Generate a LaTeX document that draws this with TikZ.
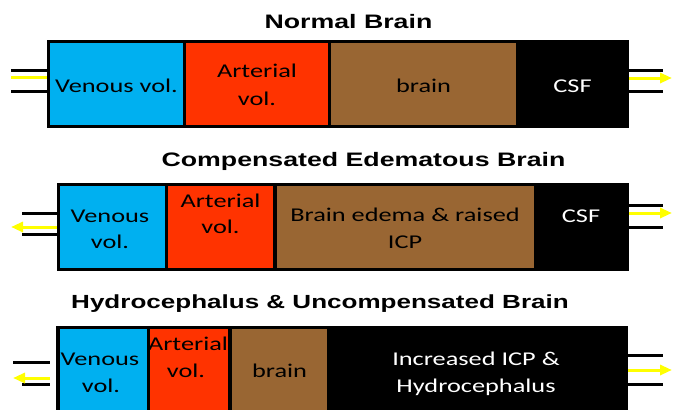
\documentclass[tikz,border=0pt]{standalone}
\usepackage{fontspec}
\newfontfamily\titlefont[FakeStretch=1.37]{Liberation Sans}
\newfontfamily\cellfont[FakeStretch=1.35]{Carlito}
\usetikzlibrary{arrows.meta}
\definecolor{vblue}{HTML}{00B0F0}
\definecolor{ared}{HTML}{FF3300}
\definecolor{bbrown}{HTML}{996633}
\definecolor{flowyellow}{HTML}{FFFF00}
\begin{document}
\begin{tikzpicture}[x=1pt,y=-1pt,
  every node/.style={inner sep=0pt, outer sep=0pt},
  title/.style={font=\titlefont\bfseries\fontsize{19.5}{23}\selectfont, anchor=base},
  frame/.style={fill=black, anchor=north west},
  cell/.style={anchor=north west},
  txt/.style={font=\cellfont\fontsize{19.5}{27}\selectfont, text=black, anchor=base},
  wtxt/.style={txt, text=white},
  pipe/.style={line width=3pt, black},
  flowline/.style={line width=3pt, flowyellow},
  flow/.style={flowline, -{Triangle[length=12pt,width=10pt]}},
]
\clip (0,0) rectangle (673,410);
\fill[white] (0,0) rectangle (673,410);

% ---------- Row 1: Normal Brain ----------
\node[title] (t1) at (348.5,28.5) {Normal Brain};
\node[frame, minimum width=582pt, minimum height=88pt] (f1) at (47,40) {};
\node[cell, fill=vblue, minimum width=133pt, minimum height=82pt] (v1) at (50,43) {};
\node[cell, fill=ared, minimum width=142pt, minimum height=82pt] (a1) at (186,43) {};
\node[cell, fill=bbrown, minimum width=185pt, minimum height=82pt] (b1) at (331,43) {};
\node[txt] (tv1) at (116.5,92) {Venous vol.};
\node[txt] (ta1a) at (257,77) {Arterial};
\node[txt] (ta1b) at (257,105) {vol.};
\node[txt] (tb1) at (423.5,92) {brain};
\node[wtxt] (tc1) at (572.5,92) {CSF};

\coordinate (l1a) at (11,70);
\coordinate (l1b) at (11,91);
\coordinate (l1y) at (11,77);
\coordinate (r1a) at (663,70);
\coordinate (r1b) at (663,91);
\coordinate (r1y) at (672,78);
\draw[pipe] (l1a) -- (l1a -| f1.west);
\draw[pipe] (l1b) -- (l1b -| f1.west);
\draw[flowline] (l1y) -- (l1y -| f1.west);
\draw[pipe] (r1a -| f1.east) -- (r1a);
\draw[pipe] (r1b -| f1.east) -- (r1b);
\draw[flow] (r1y -| f1.east) -- (r1y);

% ---------- Row 2: Compensated Edematous Brain ----------
\node[title] (t2) at (363.5,166.5) {Compensated Edematous Brain};
\node[frame, minimum width=572pt, minimum height=88pt] (f2) at (57,183) {};
\node[cell, fill=vblue, minimum width=105pt, minimum height=82pt] (v2) at (60,186) {};
\node[cell, fill=ared, minimum width=105pt, minimum height=82pt] (a2) at (168,186) {};
\node[cell, fill=bbrown, minimum width=257pt, minimum height=82pt] (b2) at (277,186) {};
\node[txt] (tv2a) at (110,222) {Venous};
\node[txt] (tv2b) at (110,248) {vol.};
\node[txt] (ta2a) at (220.5,207) {Arterial};
\node[txt] (ta2b) at (220.5,233) {vol.};
\node[txt] (tb2a) at (405,221) {Brain edema \& raised};
\node[txt] (tb2b) at (405,248) {ICP};
\node[wtxt] (tc2) at (581,222) {CSF};

\coordinate (l2a) at (22,213);
\coordinate (l2b) at (22,234);
\coordinate (l2y) at (11,227);
\coordinate (r2a) at (663,205);
\coordinate (r2b) at (663,227);
\coordinate (r2y) at (672,213);
\draw[pipe] (l2a) -- (l2a -| f2.west);
\draw[pipe] (l2b) -- (l2b -| f2.west);
\draw[flow] (l2y -| f2.west) -- (l2y);
\draw[pipe] (r2a -| f2.east) -- (r2a);
\draw[pipe] (r2b -| f2.east) -- (r2b);
\draw[flow] (r2y -| f2.east) -- (r2y);

% ---------- Row 3: Hydrocephalus & Uncompensated Brain ----------
\node[title, font=\titlefont\bfseries\fontsize{19}{23}\selectfont] (t3) at (320,308.5) {Hydrocephalus \& Uncompensated Brain};
\node[frame, minimum width=572pt, minimum height=100pt] (f3) at (56,326) {};
\node[cell, fill=vblue, minimum width=87pt, minimum height=90pt] (v3) at (60,329) {};
\node[cell, fill=ared, minimum width=78pt, minimum height=90pt] (a3) at (150,329) {};
\node[cell, fill=bbrown, minimum width=95pt, minimum height=90pt] (b3) at (232,329) {};
\node[txt] (tv3a) at (100,365) {Venous};
\node[txt] (tv3b) at (101,392) {vol.};
\node[txt] (ta3a) at (188,350) {Arterial};
\node[txt] (ta3b) at (186,377) {vol.};
\node[txt] (tb3) at (279.5,377) {brain};
\node[wtxt] (tc3a) at (476,365) {Increased ICP \&};
\node[wtxt] (tc3b) at (476,392) {Hydrocephalus};

\coordinate (l3a) at (13,362);
\coordinate (l3b) at (22,384);
\coordinate (l3e) at (50,362);
\coordinate (l3f) at (50,384);
\coordinate (l3y) at (13,378);
\coordinate (l3s) at (50,378);
\coordinate (r3a) at (663,355);
\coordinate (r3b) at (663,384);
\coordinate (r3y) at (672,370);
\draw[pipe] (l3a) -- (l3e);
\draw[pipe] (l3b) -- (l3f);
\draw[flow] (l3s) -- (l3y);
\draw[pipe] (r3a -| f3.east) -- (r3a);
\draw[pipe] (r3b -| f3.east) -- (r3b);
\draw[flow] (r3y -| f3.east) -- (r3y);
\end{tikzpicture}
\end{document}
